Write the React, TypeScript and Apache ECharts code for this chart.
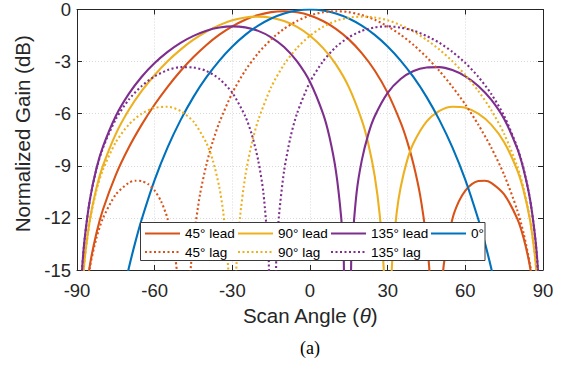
import React, { useEffect, useRef } from "react";
import * as echarts from "echarts";

// Tick values
const xTicks = [-90, -60, -30, 0, 30, 60, 90];
const yTicks = [-15, -12, -9, -6, -3, 0];

// Series names and colours (legend order)
const seriesNames = ["45° lead", "90° lead", "135° lead", "0°", "45° lag", "90° lag", "135° lag"];
const seriesColors = ["#D95319", "#EDB120", "#7E2F8E", "#0072BD", "#D95319", "#EDB120", "#7E2F8E"];
const seriesDotted = [false, false, false, false, true, true, true];

// [scan angle (deg), normalized gain (dB)]
const lead45: [number, number][] = [
  [-87, -16.96], [-85, -14.71], [-82.5, -12.88], [-80, -11.53], [-75, -9.52], [-70, -7.95], [-65, -6.63],
  [-60, -5.47], [-55, -4.45], [-50, -3.54], [-45, -2.74], [-40, -2.04], [-35, -1.45], [-30, -0.97],
  [-25, -0.59], [-20, -0.32], [-15, -0.15], [-10, -0.1], [-5, -0.16], [0, -0.34], [5, -0.66], [10, -1.11],
  [15, -1.72], [20, -2.51], [25, -3.51], [30, -4.8], [35, -6.5], [37.5, -7.58], [40, -8.92], [42.5, -10.66],
  [45, -13.22], [46, -14.76], [47, -17.0], [50, -17.9], [51, -15.71], [52, -14.35], [55, -12.06],
  [57.5, -11.05], [60, -10.43], [62.5, -10.06], [65, -9.88], [67.5, -9.86], [70, -9.98], [75, -10.65],
  [80, -12.03], [82.5, -13.16], [85, -14.83], [87, -17.01],
];

const lead90: [number, number][] = [
  [-88, -16.07], [-87, -14.31], [-85, -12.08], [-82.5, -10.29], [-80, -9.01], [-75, -7.16], [-70, -5.79],
  [-65, -4.69], [-60, -3.77], [-55, -2.98], [-50, -2.31], [-45, -1.74], [-40, -1.27], [-35, -0.9],
  [-30, -0.62], [-25, -0.46], [-20, -0.41], [-15, -0.47], [-10, -0.66], [-5, -1.0], [0, -1.51], [5, -2.21],
  [10, -3.16], [15, -4.47], [20, -6.37], [22.5, -7.71], [25, -9.59], [27, -11.92], [28.5, -15.0],
  [29.3, -18.4], [30.7, -18.4], [31.5, -15.21], [32, -14.0], [33.5, -11.68], [35, -10.25], [37.5, -8.7],
  [40, -7.69], [45, -6.46], [50, -5.84], [55, -5.6], [60, -5.66], [65, -6.0], [70, -6.63], [75, -7.64],
  [80, -9.23], [82.5, -10.42], [85, -12.14], [87, -14.34], [88, -16.1],
];

const lead135: [number, number][] = [
  [-89, -17.92], [-88, -14.91], [-87, -13.15], [-85, -10.93], [-82.5, -9.16], [-80, -7.91], [-75, -6.13],
  [-70, -4.86], [-65, -3.87], [-60, -3.08], [-55, -2.44], [-50, -1.92], [-45, -1.52], [-40, -1.22],
  [-35, -1.04], [-30, -0.97], [-25, -1.03], [-20, -1.23], [-15, -1.6], [-10, -2.16], [-5, -2.99], [0, -4.17],
  [5, -5.98], [7.5, -7.33], [10, -9.29], [12, -11.9], [13, -14.17], [13.5, -15.98], [15.5, -15.84],
  [16, -14.12], [18, -10.55], [20, -8.69], [22.5, -7.19], [25, -6.15], [30, -4.8], [35, -4.0], [40, -3.54],
  [45, -3.34], [50, -3.32], [55, -3.49], [60, -3.85], [65, -4.4], [70, -5.19], [75, -6.31], [80, -7.98],
  [82.5, -9.21], [85, -10.94], [87, -13.15], [88, -14.91], [89, -17.92],
];

const broadside0: [number, number][] = [
  [-75, -18.59], [-72.5, -16.61], [-70, -14.9], [-67.5, -13.41], [-65, -12.08], [-60, -9.81], [-55, -7.94],
  [-50, -6.37], [-45, -5.03], [-40, -3.9], [-35, -2.94], [-30, -2.13], [-25, -1.46], [-20, -0.93],
  [-15, -0.52], [-10, -0.23], [-5, -0.06], [0, 0], [5, -0.06], [10, -0.23], [15, -0.52], [20, -0.93],
  [25, -1.46], [30, -2.13], [35, -2.94], [40, -3.9], [45, -5.03], [50, -6.37], [55, -7.94], [60, -9.81],
  [65, -12.08], [67.5, -13.41], [70, -14.9], [72.5, -16.61], [75, -18.59],
];

const lag45: [number, number][] = [
  [-87, -17.01], [-85, -14.83], [-82.5, -13.16], [-80, -12.03], [-75, -10.65], [-70, -9.98], [-67.5, -9.86],
  [-65, -9.88], [-62.5, -10.06], [-60, -10.43], [-57.5, -11.05], [-55, -12.06], [-52, -14.35], [-51, -15.71],
  [-50, -17.9], [-47, -17.0], [-46, -14.76], [-45, -13.22], [-42.5, -10.66], [-40, -8.92], [-37.5, -7.58],
  [-35, -6.5], [-30, -4.8], [-25, -3.51], [-20, -2.51], [-15, -1.72], [-10, -1.11], [-5, -0.66], [0, -0.34],
  [5, -0.16], [10, -0.1], [15, -0.15], [20, -0.32], [25, -0.59], [30, -0.97], [35, -1.45], [40, -2.04],
  [45, -2.74], [50, -3.54], [55, -4.45], [60, -5.47], [65, -6.63], [70, -7.95], [75, -9.52], [80, -11.53],
  [82.5, -12.88], [85, -14.71], [87, -16.96],
];

const lag90: [number, number][] = [
  [-88, -16.1], [-87, -14.34], [-85, -12.14], [-82.5, -10.42], [-80, -9.23], [-75, -7.64], [-70, -6.63],
  [-65, -6.0], [-60, -5.66], [-55, -5.6], [-50, -5.84], [-45, -6.46], [-40, -7.69], [-37.5, -8.7],
  [-35, -10.25], [-33.5, -11.68], [-32, -14.0], [-31.5, -15.21], [-30.7, -18.4], [-29.3, -18.4],
  [-28.5, -15.0], [-27, -11.92], [-25, -9.59], [-22.5, -7.71], [-20, -6.37], [-15, -4.47], [-10, -3.16],
  [-5, -2.21], [0, -1.51], [5, -1.0], [10, -0.66], [15, -0.47], [20, -0.41], [25, -0.46], [30, -0.62],
  [35, -0.9], [40, -1.27], [45, -1.74], [50, -2.31], [55, -2.98], [60, -3.77], [65, -4.69], [70, -5.79],
  [75, -7.16], [80, -9.01], [82.5, -10.29], [85, -12.08], [87, -14.31], [88, -16.07],
];

const lag135: [number, number][] = [
  [-89, -17.92], [-88, -14.91], [-87, -13.15], [-85, -10.94], [-82.5, -9.21], [-80, -7.98], [-75, -6.31],
  [-70, -5.19], [-65, -4.4], [-60, -3.85], [-55, -3.49], [-50, -3.32], [-45, -3.34], [-40, -3.54],
  [-35, -4.0], [-30, -4.8], [-25, -6.15], [-22.5, -7.19], [-20, -8.69], [-18, -10.55], [-16, -14.12],
  [-15.5, -15.84], [-13.5, -15.98], [-13, -14.17], [-12, -11.9], [-10, -9.29], [-7.5, -7.33], [-5, -5.98],
  [0, -4.17], [5, -2.99], [10, -2.16], [15, -1.6], [20, -1.23], [25, -1.03], [30, -0.97], [35, -1.04],
  [40, -1.22], [45, -1.52], [50, -1.92], [55, -2.44], [60, -3.08], [65, -3.87], [70, -4.86], [75, -6.13],
  [80, -7.91], [82.5, -9.16], [85, -10.93], [87, -13.15], [88, -14.91], [89, -17.92],
];

const seriesData = [lead45, lead90, lead135, broadside0, lag45, lag90, lag135];

const FONT = '"Liberation Sans", Arial, Helvetica, sans-serif';
const INK = "#262626";

export default function App() {
  const ref = useRef<HTMLDivElement>(null);

  useEffect(() => {
    if (!ref.current) return;
    const chart = echarts.init(ref.current, undefined, { renderer: "svg" });

    const xMin = xTicks[0];
    const xMax = xTicks[xTicks.length - 1];
    const xStep = xTicks[1] - xTicks[0];
    const yMin = yTicks[0];
    const yMax = yTicks[yTicks.length - 1];
    const yStep = yTicks[1] - yTicks[0];

    const legendCols = [144, 237, 330, 430];
    const legendRows = [226.5, 245];

    const legends = seriesNames.map((name, i) => ({
      data: [name],
      left: legendCols[i < 4 ? i : i - 4],
      top: legendRows[i < 4 ? 0 : 1],
      padding: 0,
      itemWidth: 35,
      itemHeight: 14,
      selectedMode: false,
      itemStyle: { opacity: 0 },
      textStyle: { fontSize: 13.5, fontFamily: FONT, color: "#000" },
      z: 5,
    }));

    const option: any = {
      animation: false,
      backgroundColor: "#fff",
      grid: { left: 77, right: 20, top: 9, bottom: 99, containLabel: false },
      xAxis: [
        {
          type: "value",
          min: xMin,
          max: xMax,
          interval: xStep,
          position: "bottom",
          axisLine: { show: true, onZero: false, lineStyle: { color: INK, width: 1 } },
          axisTick: { show: true, inside: true, length: 5, lineStyle: { color: INK } },
          axisLabel: { color: INK, fontSize: 18.5, fontFamily: FONT, margin: 11 },
          splitLine: { show: true, lineStyle: { color: "#d9d9d9", type: [1, 2], width: 1 } },
          name: "Scan Angle ({i|θ})",
          nameLocation: "middle",
          nameGap: 33,
          nameTextStyle: {
            fontSize: 20.5,
            fontFamily: FONT,
            color: INK,
            rich: { i: { fontSize: 20.5, fontFamily: FONT, color: INK, fontStyle: "italic" } },
          },
        },
        {
          type: "value",
          min: xMin,
          max: xMax,
          interval: xStep,
          position: "top",
          axisLine: { show: true, onZero: false, lineStyle: { color: INK, width: 1 } },
          axisTick: { show: true, inside: true, length: 5, lineStyle: { color: INK } },
          axisLabel: { show: false },
          splitLine: { show: false },
        },
      ],
      yAxis: [
        {
          type: "value",
          min: yMin,
          max: yMax,
          interval: yStep,
          position: "left",
          axisLine: { show: true, onZero: false, lineStyle: { color: INK, width: 1 } },
          axisTick: { show: true, inside: true, length: 5, lineStyle: { color: INK } },
          axisLabel: { color: INK, fontSize: 18.5, fontFamily: FONT, margin: 6 },
          splitLine: { show: true, lineStyle: { color: "#d9d9d9", type: [1, 2], width: 1 } },
          name: "Normalized Gain (dB)",
          nameLocation: "middle",
          nameGap: 40,
          nameTextStyle: { fontSize: 20.5, fontFamily: FONT, color: INK, padding: [0, 0, 0, 12] },
        },
        {
          type: "value",
          min: yMin,
          max: yMax,
          interval: yStep,
          position: "right",
          axisLine: { show: true, onZero: false, lineStyle: { color: INK, width: 1 } },
          axisTick: { show: true, inside: true, length: 5, lineStyle: { color: INK } },
          axisLabel: { show: false },
          splitLine: { show: false },
        },
      ],
      legend: legends,
      graphic: [
        {
          type: "rect",
          z: 3,
          shape: { x: 140.5, y: 222.5, width: 344.5, height: 38 },
          style: { fill: "#fff", stroke: "#3a3a3a", lineWidth: 1 },
        },
        {
          type: "text",
          z: 3,
          x: 310,
          y: 348,
          style: {
            text: "(a)",
            font: '18px "Liberation Serif", "Times New Roman", serif',
            fill: "#000",
            textAlign: "center",
            textVerticalAlign: "middle",
          },
        },
      ],
      series: seriesNames.map((name, i) => ({
        type: "line",
        name,
        data: seriesData[i],
        xAxisIndex: 0,
        yAxisIndex: 0,
        showSymbol: false,
        symbol: "none",
        smooth: 0.25,
        clip: true,
        z: 2,
        itemStyle: { color: seriesColors[i] },
        lineStyle: {
          color: seriesColors[i],
          width: 2.1,
          type: seriesDotted[i] ? [2, 2.5] : "solid",
          cap: "butt",
        },
        emphasis: { disabled: true },
      })),
    };

    chart.setOption(option);
    return () => chart.dispose();
  }, []);

  return (
    <div
      ref={ref}
      style={{ position: "fixed", left: 0, top: 0, width: 563, height: 369, background: "#fff" }}
    />
  );
}
